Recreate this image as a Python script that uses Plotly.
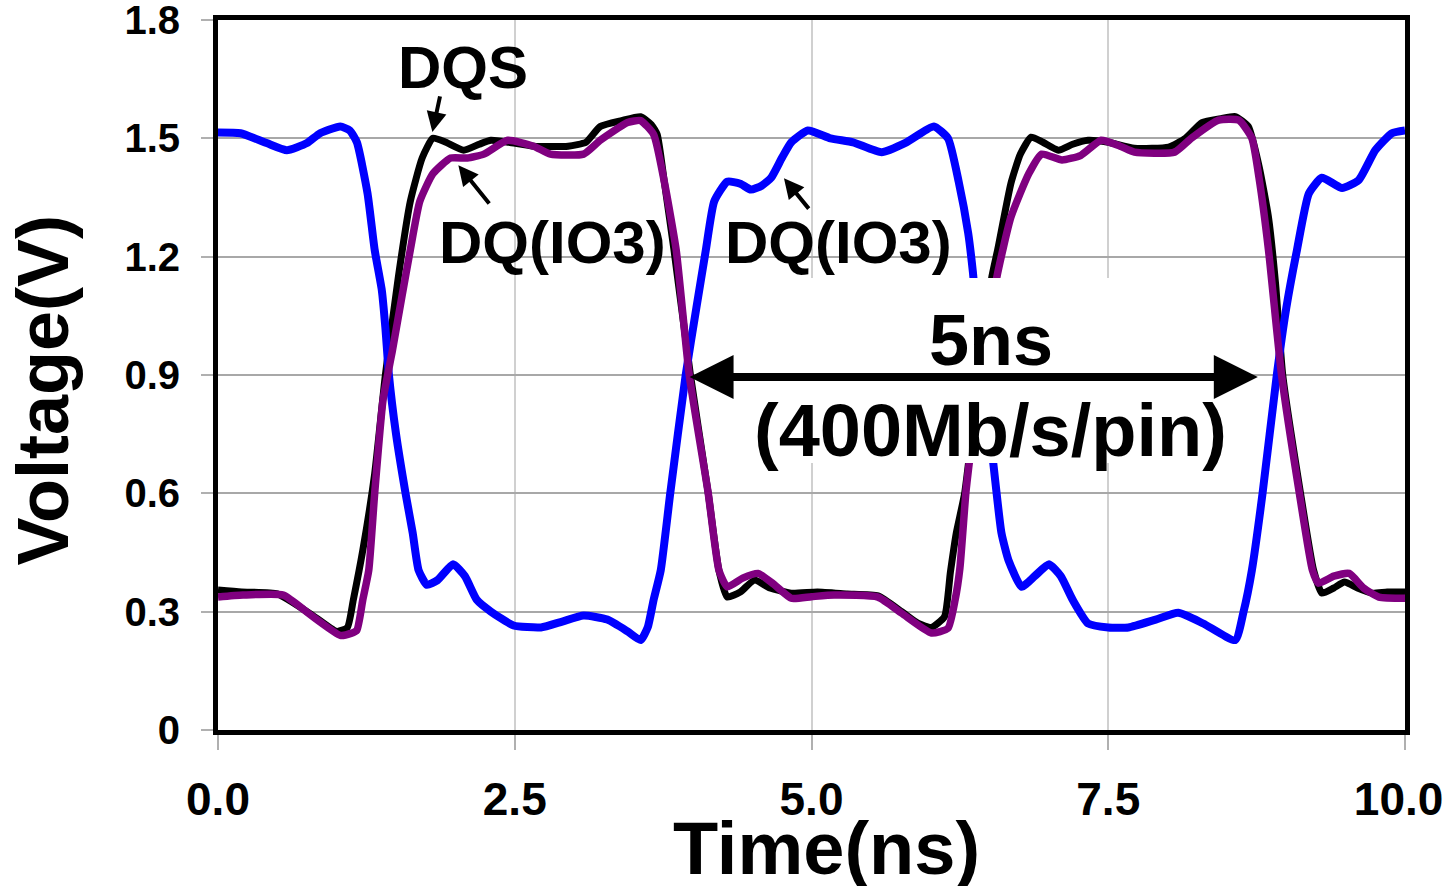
import plotly.graph_objects as go

# ---- data ----
dqs_t = [0.0, 0.2, 0.5, 0.8, 1.0, 1.09, 1.14, 1.22, 1.32, 1.41, 1.52, 1.62, 1.72, 1.81, 1.92, 2.07, 2.2, 2.3,
         2.45, 2.66, 2.95, 3.1, 3.22, 3.4, 3.56, 3.65, 3.70, 3.76, 3.84, 3.98, 4.13, 4.22, 4.29, 4.4, 4.52, 4.65,
         4.83, 5.05, 5.3, 5.56, 5.76, 5.9, 6.01, 6.12, 6.17, 6.22, 6.29, 6.41, 6.52, 6.57, 6.68, 6.76, 6.85,
         6.95, 7.08, 7.2, 7.33, 7.5, 7.72, 8.01, 8.15, 8.29, 8.45, 8.57, 8.68, 8.77, 8.85, 8.91, 8.97, 9.12,
         9.23, 9.30, 9.40, 9.49, 9.60, 9.72, 9.85, 10.0]
dqs_v = [0.355, 0.35, 0.345, 0.29, 0.25, 0.26, 0.33, 0.456, 0.65, 0.9, 1.15, 1.34, 1.45, 1.50, 1.49, 1.47, 1.485,
         1.495, 1.49, 1.48, 1.48, 1.49, 1.53, 1.545, 1.555, 1.535, 1.51, 1.39, 1.22, 0.9, 0.6, 0.405, 0.337, 0.35,
         0.38, 0.36, 0.347, 0.35, 0.345, 0.34, 0.30, 0.27, 0.26, 0.287, 0.40, 0.50, 0.6, 0.9, 1.15, 1.22, 1.386,
         1.46, 1.503, 1.49, 1.47, 1.485, 1.495, 1.49, 1.475, 1.478, 1.50, 1.54, 1.55, 1.555, 1.53, 1.43, 1.30,
         1.13, 0.9, 0.6, 0.405, 0.347, 0.36, 0.375, 0.36, 0.347, 0.35, 0.35]

dq_t = [0.0, 0.21, 0.55, 0.8, 1.03, 1.12, 1.17, 1.22, 1.27, 1.32, 1.39, 1.47, 1.55, 1.62, 1.70, 1.81, 1.96, 2.10,
        2.24, 2.44, 2.66, 2.80, 3.08, 3.22, 3.45, 3.56, 3.67, 3.76, 3.86, 3.97, 4.13, 4.22, 4.29, 4.42, 4.55,
        4.68, 4.83, 5.0, 5.19, 5.56, 5.76, 6.01, 6.15, 6.21, 6.25, 6.30, 6.33, 6.40, 6.47, 6.56, 6.68, 6.83,
        6.94, 7.11, 7.27, 7.44, 7.60, 7.72, 8.06, 8.20, 8.43, 8.60, 8.71, 8.77, 8.85, 8.96, 9.11, 9.22, 9.27,
        9.40, 9.53, 9.65, 9.78, 10.0]
dq_v = [0.337, 0.342, 0.342, 0.287, 0.24, 0.245, 0.253, 0.33, 0.405, 0.6, 0.836, 0.963, 1.10, 1.217, 1.34, 1.41,
        1.45, 1.45, 1.46, 1.495, 1.48, 1.46, 1.46, 1.495, 1.54, 1.545, 1.51, 1.39, 1.217, 0.9, 0.6, 0.405, 0.363,
        0.385, 0.397, 0.37, 0.334, 0.338, 0.342, 0.337, 0.296, 0.246, 0.258, 0.33, 0.41, 0.6, 0.68, 0.85, 0.97,
        1.146, 1.30, 1.41, 1.46, 1.445, 1.457, 1.495, 1.48, 1.465, 1.465, 1.50, 1.546, 1.546, 1.50, 1.40, 1.217,
        0.9, 0.6, 0.405, 0.372, 0.39, 0.397, 0.36, 0.337, 0.334]

dqb_t = [0.0, 0.19, 0.41, 0.58, 0.75, 0.86, 1.03, 1.11, 1.17, 1.26, 1.32, 1.38, 1.41, 1.44, 1.50, 1.58, 1.64,
         1.69, 1.76, 1.85, 1.98, 2.08, 2.18, 2.30, 2.49, 2.72, 2.9, 3.08, 3.28, 3.45, 3.56, 3.62, 3.67, 3.73,
         3.81, 3.94, 4.03, 4.11, 4.18, 4.29, 4.40, 4.49, 4.58, 4.66, 4.75, 4.83, 4.97, 5.16, 5.35, 5.59, 5.80,
         6.03, 6.15, 6.24, 6.32, 6.36, 6.44, 6.53, 6.60, 6.66, 6.77, 6.88, 7.0, 7.1, 7.2, 7.33, 7.5, 7.67, 7.9,
         8.09, 8.3, 8.57, 8.64, 8.71, 8.80, 8.92, 9.0, 9.09, 9.19, 9.30, 9.47, 9.61, 9.75, 9.89, 10.0]
dqb_v = [1.515, 1.513, 1.488, 1.47, 1.488, 1.513, 1.53, 1.52, 1.49, 1.36, 1.217, 1.115, 1.02, 0.9, 0.75, 0.6, 0.5,
         0.405, 0.368, 0.38, 0.42, 0.39, 0.33, 0.30, 0.265, 0.26, 0.275, 0.29, 0.28, 0.25, 0.228, 0.26, 0.33,
         0.405, 0.6, 0.9, 1.07, 1.217, 1.34, 1.39, 1.385, 1.37, 1.38, 1.40, 1.45, 1.49, 1.52, 1.50, 1.49, 1.465,
         1.49, 1.53, 1.50, 1.39, 1.26, 1.16, 0.9, 0.68, 0.5, 0.43, 0.363, 0.39, 0.42, 0.39, 0.33, 0.27, 0.26,
         0.26, 0.28, 0.297, 0.27, 0.228, 0.30, 0.405, 0.6, 0.9, 1.07, 1.217, 1.36, 1.40, 1.374, 1.394, 1.47,
         1.513, 1.52]

x_ticks = [0.0, 2.5, 5.0, 7.5, 10.0]
x_tick_labels = ["0.0", "2.5", "5.0", "7.5", "10.0\u00a0"]
y_ticks = [0, 0.3, 0.6, 0.9, 1.2, 1.5, 1.8]
y_tick_labels = ["0", "0.3", "0.6", "0.9", "1.2", "1.5", "1.8"]

FONT = "Liberation Sans, Arial, sans-serif"

fig = go.Figure()
fig.add_trace(go.Scatter(x=dqs_t, y=dqs_v, mode="lines", name="DQS",
                         line=dict(color="#000000", width=7, shape="spline", smoothing=0.5)))
fig.add_trace(go.Scatter(x=dqb_t, y=dqb_v, mode="lines", name="DQ(IO3) inv",
                         line=dict(color="#0000FF", width=8, shape="spline", smoothing=0.5)))
fig.add_trace(go.Scatter(x=dq_t, y=dq_v, mode="lines", name="DQ(IO3)",
                         line=dict(color="#800080", width=7.5, shape="spline", smoothing=0.5)))

# white box behind the period annotation
fig.add_shape(type="rect", xref="x", yref="y", x0=4.49, x1=8.58, y0=0.677, y1=1.146,
              fillcolor="white", line=dict(width=0), layer="above")

big = dict(family=FONT, size=60, color="black", weight="bold")
ann = []
ann.append(dict(x=2.06, y=1.68, text="DQS", showarrow=False, font=big))
ann.append(dict(x=2.82, y=1.237, text="DQ(IO3)", showarrow=False, font=big))
ann.append(dict(x=5.23, y=1.237, text="DQ(IO3)", showarrow=False, font=big))
ann.append(dict(x=6.51, y=0.99, text="5ns", showarrow=False,
                font=dict(family=FONT, size=72, color="black", weight="bold")))
ann.append(dict(x=6.51, y=0.76, text="(400Mb/s/pin)", showarrow=False,
                font=dict(family=FONT, size=74, color="black", weight="bold")))
# small pointer arrows
for tip, tail in [((1.806, 1.516), (1.873, 1.61)),
                  ((2.025, 1.432), (2.295, 1.331)),
                  ((4.768, 1.399), (4.987, 1.318))]:
    ann.append(dict(x=tip[0], y=tip[1], ax=tail[0], ay=tail[1], xref="x", yref="y",
                    axref="x", ayref="y", text="", showarrow=True, arrowhead=2,
                    arrowwidth=4, arrowsize=1.0, arrowcolor="black"))
# double-headed period arrow
ann.append(dict(x=8.76, y=0.895, ax=3.96, ay=0.895, xref="x", yref="y", axref="x", ayref="y",
                text="", showarrow=True, arrowhead=2, startarrowhead=2, arrowside="end+start",
                arrowwidth=8, arrowsize=1.1, startarrowsize=1.1, arrowcolor="black"))
# axis titles
ann.append(dict(x=0, y=0.478, xref="paper", yref="paper", xanchor="center", yanchor="middle",
                xshift=-175, text="Voltage(V)", textangle=-90, showarrow=False,
                font=dict(family=FONT, size=72, color="black", weight="bold")))
ann.append(dict(x=0.513, y=0, xref="paper", yref="paper", xanchor="center", yanchor="middle",
                yshift=-118, text="Time(ns)", showarrow=False,
                font=dict(family=FONT, size=74, color="black", weight="bold")))

fig.update_layout(
    width=1445, height=886,
    margin=dict(l=218, r=40, t=20, b=156, autoexpand=False),
    paper_bgcolor="white", plot_bgcolor="white",
    showlegend=False,
    annotations=ann,
)
fig.update_xaxes(range=[0, 10], tickvals=x_ticks, ticktext=x_tick_labels, automargin=False,
                 showgrid=True, gridcolor="#d0d0d0", gridwidth=2,
                 showline=True, linecolor="black", linewidth=5, mirror=True,
                 ticks="outside", ticklen=15, tickcolor="#b0b0b0", tickwidth=2,
                 ticklabelstandoff=10, ticklabeloverflow="allow", zeroline=False,
                 tickfont=dict(family=FONT, size=46, color="black", weight="bold"))
fig.update_yaxes(range=[0, 1.8], tickvals=y_ticks, ticktext=y_tick_labels, automargin=False,
                 showgrid=True, gridcolor="#a8a8a8", gridwidth=2,
                 showline=True, linecolor="black", linewidth=5, mirror=True,
                 ticks="outside", ticklen=12, tickcolor="#b0b0b0", tickwidth=2,
                 ticklabelstandoff=13, ticklabeloverflow="allow", zeroline=False,
                 tickfont=dict(family=FONT, size=40, color="black", weight="bold"))

fig.write_html("out.html", config={"displayModeBar": False},
               post_script="document.body.style.margin='0';document.body.style.overflow='hidden';")
